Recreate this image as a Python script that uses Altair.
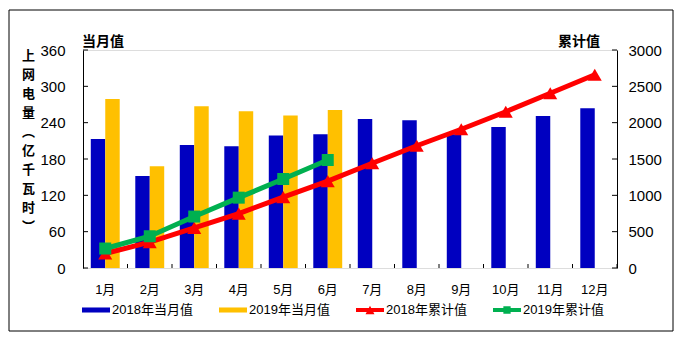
import altair as alt
import pandas as pd

months = ["1月", "2月", "3月", "4月", "5月", "6月", "7月", "8月", "9月", "10月", "11月", "12月"]
m2018 = [213, 152, 203, 201, 219, 221, 246, 244, 221, 233, 251, 264]
m2019 = [279, 168, 267, 259, 252, 261]
c2018 = [200, 355, 552, 749, 975, 1196, 1442, 1682, 1909, 2150, 2405, 2660]
c2019 = [268, 437, 708, 968, 1225, 1486]

s_b18 = "2018年当月值"
s_b19 = "2019年当月值"
s_c18 = "2018年累计值"
s_c19 = "2019年累计值"
series_names = [s_b18, s_b19, s_c18, s_c19]
colors = ["#0000C0", "#FFC000", "#FF0000", "#00B050"]

left_ticks = [0, 60, 120, 180, 240, 300, 360]
right_ticks = [0, 500, 1000, 1500, 2000, 2500, 3000]
y_title = ["上", "网", "电", "量", "︵", "亿", "千", "瓦", "时", "︶"]

FONT = "Liberation Sans, Noto Sans CJK SC"
CJK = "Noto Sans CJK SC"

bars_df = pd.DataFrame({
    "month": months + months[:6],
    "series": [s_b18] * 12 + [s_b19] * 6,
    "value": m2018 + m2019,
})
c18_df = pd.DataFrame({"month": months, "idx": list(range(12)), "value": c2018})
c19_df = pd.DataFrame({"month": months[:6], "idx": list(range(6)), "value": c2019})
month_df = pd.DataFrame({"month": months})


def lscale():
    return alt.Scale(domain=[0, 360], nice=False, zero=True)


def rscale():
    return alt.Scale(domain=[0, 3000], nice=False, zero=True)


x_scale = alt.Scale(paddingInner=0.35, paddingOuter=0.175)


def xenc(axis=None, **kw):
    return alt.X("month:N", sort=months, scale=x_scale, axis=axis, **kw)


x_axis = alt.Axis(title=None, labels=False, domainColor="black", ticks=False, tickSize=0,
                  grid=False)

bars = alt.Chart(bars_df).mark_bar().encode(
    x=xenc(x_axis),
    xOffset=alt.XOffset("series:N", sort=[s_b18, s_b19],
                        scale=alt.Scale(domain=[s_b18, s_b19], paddingInner=0, paddingOuter=0)),
    y=alt.Y("value:Q", scale=lscale(),
            axis=alt.Axis(orient="left", values=left_ticks, grid=False, ticks=False, tickSize=0,
                          labelPadding=18, labelFont=FONT, labelFontSize=15, labelColor="black",
                          domainColor="black", format="d",
                          title=y_title, titleAngle=0, titleX=-55, titleY=-1, titleAlign="center",
                          titleBaseline="top", titleLineHeight=19, titleFont=CJK,
                          titleFontSize=13, titleFontWeight="bold", titleColor="black")),
    fill=alt.Fill("series:N", scale=alt.Scale(domain=[s_b18, s_b19], range=colors[:2]), legend=None),
)

lticks = alt.Chart(pd.DataFrame({"v": left_ticks})).mark_rule(color="black", strokeWidth=1).encode(
    y=alt.Y("v:Q", scale=lscale(), axis=None),
    x=alt.value(0), x2=alt.value(5),
)

xticks = alt.Chart(month_df).mark_rule(
    color="black", strokeWidth=1, xOffset=7.8).encode(
    x=xenc(None, bandPosition=1),
    y=alt.value(214), y2=alt.value(218),
)

xlabels = alt.Chart(month_df).mark_text(
    font=FONT, fontSize=13, align="center", baseline="middle", color="black").encode(
    x=xenc(None), y=alt.value(240), text="month:N")

border = alt.Chart(pd.DataFrame({"a": [0]})).mark_rect(
    fill="transparent", stroke="black", strokeWidth=1).encode(
    x=alt.value(-74), x2=alt.value(590), y=alt.value(-40), y2=alt.value(281))

t_left = alt.Chart(pd.DataFrame({"t": ["当月值"]})).mark_text(
    font=CJK, fontSize=14, fontWeight="bold", align="left", baseline="middle", color="black").encode(
    text="t:N", x=alt.value(-1), y=alt.value(-8))
t_right = alt.Chart(pd.DataFrame({"t": ["累计值"]})).mark_text(
    font=CJK, fontSize=14, fontWeight="bold", align="right", baseline="middle", color="black").encode(
    text="t:N", x=alt.value(517), y=alt.value(-8))

rect_path = "M-1,-0.18H1V0.18H-1Z"
tri_path = "M-1,-0.15H1V0.15H-1Z M-0.32,0.3L0,-0.3L0.32,0.3Z"
sq_path = "M-1,-0.15H1V0.15H-1Z M-0.26,-0.26H0.26V0.26H-0.26Z"

legend_layer = alt.Chart(pd.DataFrame({"series": series_names})).mark_point(
    filled=True, opacity=1).encode(
    x=alt.value(-2000), y=alt.value(-2000),
    color=alt.Color("series:N", sort=series_names,
                    scale=alt.Scale(domain=series_names, range=colors),
                    legend=alt.Legend(title=None, orient="none", legendX=-1, legendY=246,
                                      direction="horizontal", columns=4, symbolSize=784,
                                      symbolOpacity=1, symbolStrokeWidth=0, labelFont=FONT,
                                      labelFontSize=13, labelColor="black", labelOffset=2,
                                      columnPadding=26, padding=0)),
    shape=alt.Shape("series:N", sort=series_names,
                    scale=alt.Scale(domain=series_names,
                                    range=[rect_path, rect_path, tri_path, sq_path])),
)

line18 = alt.Chart(c18_df).mark_line(color="#FF0000", strokeWidth=5).encode(
    x=xenc(None), y=alt.Y("value:Q", scale=rscale(),
                          axis=alt.Axis(orient="right", values=right_ticks, grid=False, ticks=False,
                                        tickSize=0, labelPadding=11, labelFont=FONT,
                                        labelFontSize=15, labelColor="black", format="d",
                                        domainColor="black", title=None)),
    order=alt.Order("idx:Q"))
pts18 = alt.Chart(c18_df).mark_point(shape="triangle-up", filled=True, size=196, opacity=1,
                                     color="#FF0000").encode(
    x=xenc(None), y=alt.Y("value:Q", scale=rscale(), axis=None))
line19 = alt.Chart(c19_df).mark_line(color="#00B050", strokeWidth=5).encode(
    x=xenc(None), y=alt.Y("value:Q", scale=rscale(), axis=None),
    order=alt.Order("idx:Q"))
pts19 = alt.Chart(c19_df).mark_point(shape="square", filled=True, size=144, opacity=1,
                                     color="#00B050").encode(
    x=xenc(None), y=alt.Y("value:Q", scale=rscale(), axis=None))
rticks = alt.Chart(pd.DataFrame({"v": right_ticks})).mark_rule(color="black", strokeWidth=1).encode(
    y=alt.Y("v:Q", scale=rscale(), axis=None),
    x=alt.value(529), x2=alt.value(534),
)

chart = alt.layer(
    border, bars, lticks, xticks, xlabels, t_left, t_right, legend_layer,
    line18, pts18, line19, pts19, rticks,
).resolve_scale(y="independent").properties(
    width=534, height=218,
    autosize=alt.AutoSizeParams(type="none"),
    padding={"left": 83, "top": 50, "right": 69, "bottom": 73},
).configure_view(strokeWidth=0).configure(background="white")

chart.save("out.html", embed_options={"renderer": "svg", "actions": False})
